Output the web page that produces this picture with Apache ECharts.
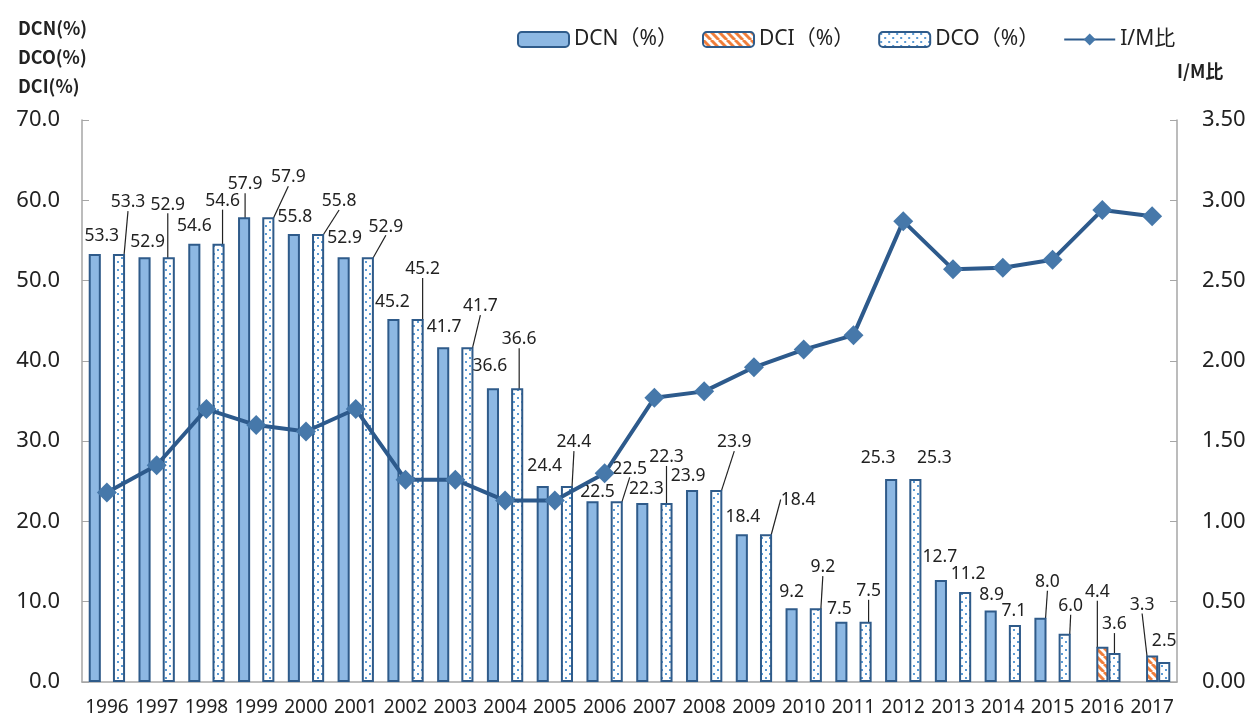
<!DOCTYPE html>
<html lang="ja">
<head>
<meta charset="UTF-8">
<title>DCN / DCO / DCI と I/M比</title>
<script src="https://cdn.jsdelivr.net/npm/echarts@6/dist/echarts.min.js"></script>
<style>
  html, body { margin: 0; padding: 0; background: #fff; }
  #chart { width: 1253px; height: 718px; }
</style>
</head>
<body>
<div id="chart"></div>
<script>
// data
const years = ['1996', '1997', '1998', '1999', '2000', '2001', '2002', '2003', '2004', '2005', '2006',
               '2007', '2008', '2009', '2010', '2011', '2012', '2013', '2014', '2015', '2016', '2017'];
const dcn = [53.3, 52.9, 54.6, 57.9, 55.8, 52.9, 45.2, 41.7, 36.6, 24.4, 22.5,
             22.3, 23.9, 18.4, 9.2, 7.5, 25.3, 12.7, 8.9, 8.0, null, null];
const dci = [null, null, null, null, null, null, null, null, null, null, null,
             null, null, null, null, null, null, null, null, null, 4.4, 3.3];
const dco = [53.3, 52.9, 54.6, 57.9, 55.8, 52.9, 45.2, 41.7, 36.6, 24.4, 22.5,
             22.3, 23.9, 18.4, 9.2, 7.5, 25.3, 11.2, 7.1, 6.0, 3.6, 2.5];
const imRatio = [1.18, 1.35, 1.70, 1.60, 1.56, 1.70, 1.26, 1.26, 1.13, 1.13, 1.30,
                 1.77, 1.81, 1.96, 2.07, 2.16, 2.87, 2.57, 2.58, 2.63, 2.94, 2.90];

// label placement (style only): [dx, dy] shift from the default "top" spot, and which get a leader line
const dcnShift = [[7,-4],[3,-2],[0,-4],[1,-19],[1,-3],[1,-6],[-1,-3],[1,-6],[-3,-8],[2,-6],[5,4],
                  [4,0],[-4,0],[1,-4],[0,-2],[-2,1],[-13,-7],[-1,-9],[1,-2],[7,-22],[0,0],[0,0]];
const dcnLeader = [3, 19];
const dciShift = {20: [-5,-41], 21: [-10,-37]};
const dciLeader = [20, 21];
const dcoShift = [[9,-38],[-1,-39],[4,-29],[20,-26],[21,-19],[18,-17],[5,-36],[13,-27],[2,-35],[7,-30],[13,-19],
                  [0,-32],[18,-34],[32,-21],[7,-27],[3,-17],[19,-7],[3,-4],[-1,0],[6,-14],[0,-15],[0,-7]];
const dcoLeader = [0,1,2,3,4,5,6,7,8,9,10,11,12,13,14,15,19,20];

const font = '"Noto Sans", "Noto Sans CJK JP", sans-serif';
const border = '#2f5b8a';

function dotPattern() {
  const c = document.createElement('canvas');
  c.width = 8; c.height = 8;
  const g = c.getContext('2d');
  g.fillStyle = '#fff';
  g.fillRect(0, 0, 8, 8);
  g.fillStyle = '#5b9bd5';
  g.fillRect(1, 1, 2, 2);
  g.fillRect(5, 5, 2, 2);
  return c;
}

function stripePattern() {
  const c = document.createElement('canvas');
  c.width = 8; c.height = 8;
  const g = c.getContext('2d');
  g.fillStyle = '#fff';
  g.fillRect(0, 0, 8, 8);
  g.strokeStyle = '#f07d3a';
  g.lineWidth = 3;
  [-8, 0, 8].forEach(o => {
    g.beginPath();
    g.moveTo(o, 0);
    g.lineTo(o + 8, 8);
    g.stroke();
  });
  return c;
}

function items(values, leaders) {
  return values.map((v, i) => ({ value: v, labelLine: { show: leaders.includes(i) } }));
}

const barLabel = {
  show: true,
  position: 'top',
  distance: 5,
  color: '#222',
  fontSize: 17.5,
  fontFamily: font,
  formatter: p => p.value == null ? '' : p.value.toFixed(1)
};
const leaderLine = { lineStyle: { color: '#222', width: 1.2 } };

const chart = echarts.init(document.getElementById('chart'));
chart.setOption({
  animation: false,
  title: {
    text: 'DCN(%)\nDCO(%)\nDCI(%)',
    left: 13,
    top: 9,
    textStyle: { fontSize: 18, fontWeight: 'bold', lineHeight: 29, color: '#222', fontFamily: '"Noto Sans CJK JP", sans-serif' }
  },
  legend: {
    top: 24,
    left: 512,
    itemWidth: 51,
    itemHeight: 15,
    itemGap: 24,
    textStyle: { fontSize: 21, color: '#222', fontFamily: font },
    data: ['DCN（%）', 'DCI（%）', 'DCO（%）', 'I/M比']
  },
  grid: { left: 82, right: 76, top: 120, bottom: 36 },
  xAxis: {
    type: 'category',
    data: years,
    axisLine: { lineStyle: { color: '#a6a6a6', width: 1.5 } },
    axisTick: { inside: true, length: 7, lineStyle: { color: '#a6a6a6' } },
    axisLabel: { interval: 0, color: '#222', fontSize: 19, margin: 16, fontFamily: font }
  },
  yAxis: [
    {
      type: 'value',
      min: 0, max: 70, interval: 10,
      axisLine: { show: true, lineStyle: { color: '#a6a6a6', width: 1.5 } },
      axisTick: { show: true, inside: true, length: 7, lineStyle: { color: '#a6a6a6' } },
      splitLine: { show: false },
      axisLabel: { color: '#222', fontSize: 22, margin: 22, fontFamily: font, formatter: v => v.toFixed(1) }
    },
    {
      type: 'value',
      position: 'right',
      min: 0, max: 3.5, interval: 0.5,
      name: 'I/M比',
      nameLocation: 'end',
      nameGap: 49,
      nameTextStyle: { fontSize: 18, fontWeight: 'bold', color: '#222', align: 'left', verticalAlign: 'middle',
                       fontFamily: '"Noto Sans CJK JP", sans-serif' },
      axisLine: { show: true, lineStyle: { color: '#a6a6a6', width: 1.5 } },
      axisTick: { show: true, inside: true, length: 7, lineStyle: { color: '#a6a6a6' } },
      splitLine: { show: false },
      axisLabel: { color: '#222', fontSize: 22, margin: 25, fontFamily: font, formatter: v => v.toFixed(2) }
    }
  ],
  series: [
    {
      name: 'DCN（%）',
      type: 'bar',
      barGap: '0%',
      barCategoryGap: '27%',
      data: items(dcn, dcnLeader),
      itemStyle: { color: '#8db8e3', borderColor: border, borderWidth: 2 },
      label: barLabel,
      labelLine: leaderLine,
      labelLayout: p => ({ dx: dcnShift[p.dataIndex][0], dy: dcnShift[p.dataIndex][1] })
    },
    {
      name: 'DCI（%）',
      type: 'bar',
      data: items(dci, dciLeader),
      itemStyle: { color: { image: stripePattern(), repeat: 'repeat' }, borderColor: border, borderWidth: 2 },
      label: barLabel,
      labelLine: leaderLine,
      labelLayout: p => {
        const s = dciShift[p.dataIndex] || [0, 0];
        return { dx: s[0], dy: s[1] };
      }
    },
    {
      name: 'DCO（%）',
      type: 'bar',
      data: items(dco, dcoLeader),
      itemStyle: { color: { image: dotPattern(), repeat: 'repeat' }, borderColor: border, borderWidth: 2 },
      label: barLabel,
      labelLine: leaderLine,
      labelLayout: p => ({ dx: dcoShift[p.dataIndex][0], dy: dcoShift[p.dataIndex][1] })
    },
    {
      name: 'I/M比',
      type: 'line',
      yAxisIndex: 1,
      data: imRatio,
      symbol: 'diamond',
      symbolSize: 20,
      z: 5,
      lineStyle: { color: '#2d5a8c', width: 4 },
      itemStyle: { color: '#4678aa' }
    }
  ]
});
</script>
</body>
</html>
